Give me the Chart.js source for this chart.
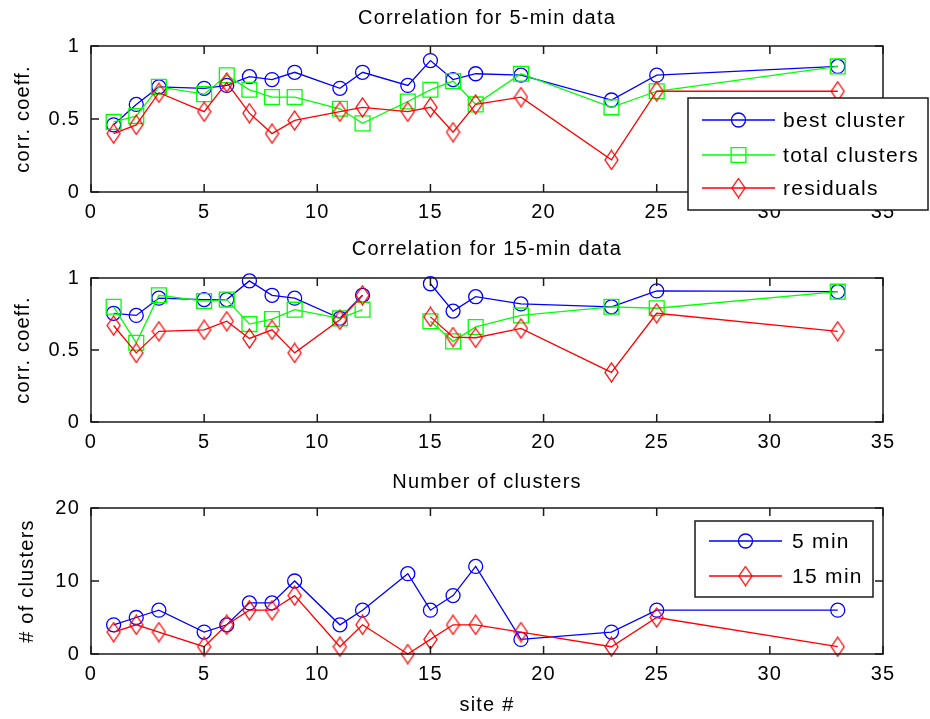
<!DOCTYPE html>
<html>
<head>
<meta charset="utf-8">
<script src="https://cdn.jsdelivr.net/npm/chart.js@4.4.1/dist/chart.umd.min.js"></script>
<style>
    body { margin: 0; background: #fff; }
    #wrap { position: relative; width: 930px; height: 719px; }
    canvas { position: absolute; left: 0; }
</style>
</head>
<body>
<div id="wrap">
    <canvas id="chart5" width="930" height="232" style="top:0px"></canvas>
    <canvas id="chart15" width="930" height="232" style="top:232px"></canvas>
    <canvas id="chartN" width="930" height="255" style="top:464px"></canvas>
</div>
<script>
// sites on the x axis
const sites = [1, 2, 3, 5, 6, 7, 8, 9, 11, 12, 14, 15, 16, 17, 19, 23, 25, 33];

// correlation, 5-min data
const best5  = [0.46, 0.60, 0.72, 0.71, 0.73, 0.79, 0.77, 0.82, 0.71, 0.82, 0.73, 0.90, 0.77, 0.81, 0.80, 0.63, 0.80, 0.86];
const total5 = [0.48, 0.52, 0.72, 0.67, 0.80, 0.70, 0.65, 0.65, 0.57, 0.47, 0.62, 0.70, 0.76, 0.60, 0.81, 0.58, 0.69, 0.86];
const resid5 = [0.40, 0.46, 0.68, 0.55, 0.75, 0.54, 0.40, 0.49, 0.55, 0.58, 0.55, 0.58, 0.41, 0.60, 0.65, 0.22, 0.69, 0.69];

// correlation, 15-min data (site 14 missing)
const best15  = [0.755, 0.74, 0.86, 0.85, 0.85, 0.98, 0.88, 0.86, 0.72, 0.88, null, 0.96, 0.77, 0.87, 0.82, 0.80, 0.91, 0.905];
const total15 = [0.80, 0.55, 0.88, 0.84, 0.85, 0.68, 0.715, 0.78, 0.72, 0.78, null, 0.70, 0.56, 0.66, 0.74, 0.80, 0.79, 0.905];
const resid15 = [0.67, 0.48, 0.63, 0.64, 0.70, 0.58, 0.64, 0.48, 0.71, 0.88, null, 0.73, 0.59, 0.585, 0.65, 0.345, 0.755, 0.63];

// number of clusters
const clusters5  = [4, 5, 6, 3, 4, 7, 7, 10, 4, 6, 11, 6, 8, 12, 2, 3, 6, 6];
const clusters15 = [3, 4, 3, 1, 4, 6, 6, 8, 1, 4, 0, 2, 4, 4, 3, 1, 5, 1];

// tick labels
const xTicks = [0, 5, 10, 15, 20, 25, 30, 35];
const corrTicks = [0, 0.5, 1];
const countTicks = [0, 10, 20];

Chart.defaults.font.family = "'Liberation Sans', Arial, sans-serif";
Chart.defaults.font.size = 20;
Chart.defaults.color = '#000';

// MATLAB style tall diamond marker
function makeDiamond(color) {
    const c = document.createElement('canvas');
    c.width = 15; c.height = 21;
    const g = c.getContext('2d');
    g.strokeStyle = color;
    g.lineWidth = 1.3;
    g.beginPath();
    g.moveTo(7.5, 1); g.lineTo(14, 10.5); g.lineTo(7.5, 20); g.lineTo(1, 10.5);
    g.closePath();
    g.stroke();
    return c;
}
const redDiamond = makeDiamond('#ff0000');

const markerStyle = {
    circle: { pointStyle: 'circle', pointRadius: 7 },
    square: { pointStyle: 'rect', pointRadius: 10.5 },
    diamond: { pointStyle: redDiamond, pointRadius: 10 }
};

function series(label, values, color, marker, order) {
    return Object.assign({
        label: label,
        marker: marker,
        data: sites.map((s, i) => ({ x: s, y: values[i] })),
        borderColor: color,
        pointBorderColor: color,
        pointBackgroundColor: 'rgba(0,0,0,0)',
        borderWidth: 1.3,
        pointBorderWidth: 1.3,
        tension: 0,
        spanGaps: false,
        clip: false,
        order: order
    }, markerStyle[marker]);
}

function drawMarker(ctx, kind, color, x, y) {
    ctx.strokeStyle = color;
    ctx.lineWidth = 1.3;
    if (kind === 'diamond') {
        ctx.drawImage(redDiamond, x - redDiamond.width / 2, y - redDiamond.height / 2);
        return;
    }
    ctx.beginPath();
    if (kind === 'circle') ctx.arc(x, y, 7, 0, Math.PI * 2);
    else ctx.rect(x - 7.4, y - 7.4, 14.8, 14.8);
    ctx.stroke();
}

// box round the axes with inward ticks on every side, plus the boxed legend
const framePlugin = {
    id: 'frame',
    beforeDraw(chart) {
        chart.ctx.letterSpacing = '1.2px';
    },
    afterDatasetsDraw(chart) {
        const ctx = chart.ctx;
        const a = chart.chartArea;
        const x = chart.scales.x, y = chart.scales.y;
        ctx.save();
        ctx.strokeStyle = '#1a1a1a';
        ctx.lineWidth = 1.5;
        ctx.strokeRect(a.left, a.top, a.right - a.left, a.bottom - a.top);
        ctx.beginPath();
        x.ticks.forEach(t => {
            const px = x.getPixelForValue(t.value);
            ctx.moveTo(px, a.bottom); ctx.lineTo(px, a.bottom - 8);
            ctx.moveTo(px, a.top); ctx.lineTo(px, a.top + 8);
        });
        y.ticks.forEach(t => {
            const py = y.getPixelForValue(t.value);
            ctx.moveTo(a.left, py); ctx.lineTo(a.left + 8, py);
            ctx.moveTo(a.right, py); ctx.lineTo(a.right - 8, py);
        });
        ctx.stroke();
        ctx.restore();
    },
    afterDraw(chart) {
        const lg = chart.options.plugins.frame.legend;
        if (!lg) return;
        const ctx = chart.ctx;
        ctx.save();
        ctx.fillStyle = '#fff';
        ctx.fillRect(lg.x, lg.y, lg.w, lg.h);
        ctx.strokeStyle = '#1a1a1a';
        ctx.lineWidth = 1.5;
        ctx.strokeRect(lg.x, lg.y, lg.w, lg.h);
        chart.data.datasets.forEach((ds, i) => {
            const ry = lg.rows[i];
            ctx.strokeStyle = ds.borderColor;
            ctx.lineWidth = 1.3;
            ctx.beginPath();
            ctx.moveTo(lg.lineX0, ry); ctx.lineTo(lg.lineX1, ry);
            ctx.stroke();
            drawMarker(ctx, ds.marker, ds.borderColor, (lg.lineX0 + lg.lineX1) / 2, ry);
            ctx.fillStyle = '#000';
            ctx.font = "21px 'Liberation Sans', Arial, sans-serif";
            ctx.letterSpacing = '1.3px';
            ctx.textBaseline = 'middle';
            ctx.textAlign = 'left';
            ctx.fillText(ds.label, lg.textX, ry + 1);
        });
        ctx.restore();
    }
};

function makeChart(id, cfg) {
    return new Chart(document.getElementById(id), {
        type: 'line',
        data: { datasets: cfg.datasets },
        plugins: [framePlugin],
        options: {
            responsive: false,
            animation: false,
            events: [],
            layout: { padding: { top: 0, right: 47, bottom: 0, left: 0 } },
            plugins: {
                legend: { display: false },
                tooltip: { enabled: false },
                title: {
                    display: true,
                    fullSize: false,
                    text: cfg.title,
                    font: { size: 20, weight: 'normal' },
                    color: '#000',
                    padding: { top: cfg.titlePad[0], bottom: cfg.titlePad[1] }
                },
                frame: { legend: cfg.legend }
            },
            scales: {
                x: {
                    type: 'linear',
                    min: 0, max: 35,
                    afterBuildTicks: s => { s.ticks = xTicks.map(v => ({ value: v })); },
                    afterFit: s => { s.height = cfg.xHeight; },
                    grid: { display: false, drawTicks: false },
                    border: { display: false },
                    ticks: { padding: 8, maxRotation: 0, autoSkip: false, callback: v => String(v) },
                    title: cfg.xTitle ? {
                        display: true, text: cfg.xTitle, font: { size: 20 },
                        padding: { top: 0, bottom: 2 }
                    } : { display: false }
                },
                y: {
                    type: 'linear',
                    min: cfg.yTicks[0], max: cfg.yTicks[cfg.yTicks.length - 1],
                    afterBuildTicks: s => { s.ticks = cfg.yTicks.map(v => ({ value: v })); },
                    afterFit: s => { s.width = 91; },
                    grid: { display: false, drawTicks: false },
                    border: { display: false },
                    ticks: { padding: 11, callback: v => String(v) },
                    title: {
                        display: true, text: cfg.yTitle, font: { size: 20 },
                        padding: { top: cfg.yTitlePad, bottom: 0 }
                    }
                }
            }
        }
    });
}

makeChart('chart5', {
    title: 'Correlation for 5-min data',
    titlePad: [6, 16],
    xHeight: 40,
    yTicks: corrTicks,
    yTitle: 'corr. coeff.',
    yTitlePad: 11,
    datasets: [
        series('best cluster', best5, '#0000ff', 'circle', 2),
        series('total clusters', total5, '#00ff00', 'square', 1),
        series('residuals', resid5, '#ff0000', 'diamond', 0)
    ],
    legend: { x: 688, y: 98, w: 240, h: 112, rows: [120, 155, 188], lineX0: 702, lineX1: 775, textX: 783 }
});

makeChart('chart15', {
    title: 'Correlation for 15-min data',
    titlePad: [5, 17],
    xHeight: 42,
    yTicks: corrTicks,
    yTitle: 'corr. coeff.',
    yTitlePad: 11,
    datasets: [
        series('best cluster', best15, '#0000ff', 'circle', 2),
        series('total clusters', total15, '#00ff00', 'square', 1),
        series('residuals', resid15, '#ff0000', 'diamond', 0)
    ],
    legend: null
});

makeChart('chartN', {
    title: 'Number of clusters',
    titlePad: [6, 14],
    xHeight: 65,
    xTitle: 'site #',
    yTicks: countTicks,
    yTitle: '# of clusters',
    yTitlePad: 15,
    datasets: [
        series('5 min', clusters5, '#0000ff', 'circle', 1),
        series('15 min', clusters15, '#ff0000', 'diamond', 0)
    ],
    legend: { x: 695, y: 57, w: 178, h: 76, rows: [77, 112], lineX0: 709, lineX1: 782, textX: 792 }
});
</script>
</body>
</html>
